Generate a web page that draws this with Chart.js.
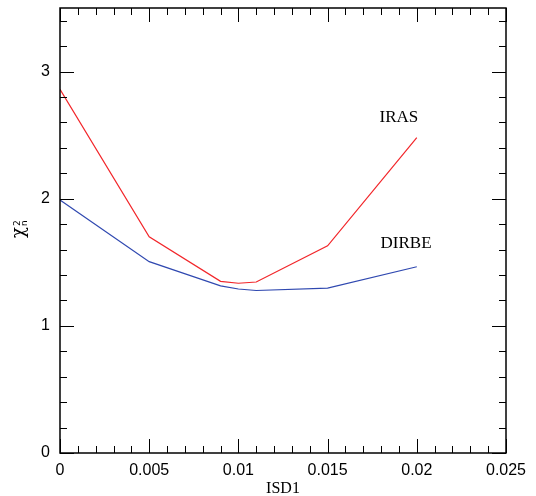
<!DOCTYPE html>
<html>
<head>
<meta charset="utf-8">
<script src="https://cdn.jsdelivr.net/npm/chart.js@4.4.0/dist/chart.umd.min.js"></script>
<style>
  html, body { margin: 0; padding: 0; background: #fff; }
  #wrap { width: 536px; height: 496px; }
</style>
</head>
<body>
<div id="wrap"><canvas id="chi2Chart" width="536" height="496"></canvas></div>
<script>
// ISD1 values and reduced chi-square for each data set
const isd1 = [0, 0.005, 0.009, 0.01, 0.011, 0.015, 0.02];
const irasChi2 = [2.86, 1.70, 1.35, 1.335, 1.345, 1.63, 2.48];
const dirbeChi2 = [1.99, 1.505, 1.315, 1.29, 1.278, 1.297, 1.465];

const xTickValues = [0, 0.005, 0.01, 0.015, 0.02, 0.025];
const xTickText = ['0', '0.005', '0.01', '0.015', '0.02', '0.025'];
const yTickValues = [0, 1, 2, 3];

const curveLabels = [
    { text: 'IRAS', x: 0.0190, y: 2.64 },
    { text: 'DIRBE', x: 0.0194, y: 1.645 }
];

const toPoints = (xs, ys) => xs.map((x, i) => ({ x: x, y: ys[i] }));

// inward ticks on all four sides, plus curve names and the y title
const framePlugin = {
    id: 'frame',
    afterDraw(chart) {
        const ctx = chart.ctx;
        const a = chart.chartArea;
        const xs = chart.scales.x;
        const ys = chart.scales.y;
        ctx.save();
        ctx.strokeStyle = '#000';
        ctx.lineWidth = 1.5;
        ctx.strokeRect(a.left, a.top, a.right - a.left, a.bottom - a.top);

        ctx.lineWidth = 1;
        ctx.beginPath();
        for (let i = 0; i <= 25; i++) {
            const v = i * 0.001;
            const px = Math.round(xs.getPixelForValue(v)) + 0.5;
            const len = i % 5 === 0 ? 14 : 7;
            ctx.moveTo(px, a.bottom); ctx.lineTo(px, a.bottom - len);
            ctx.moveTo(px, a.top); ctx.lineTo(px, a.top + len);
        }
        for (let i = 0; i <= 17; i++) {
            const v = i * 0.2;
            const py = Math.round(ys.getPixelForValue(v)) + 0.5;
            const len = i % 5 === 0 ? 14 : 7;
            ctx.moveTo(a.left, py); ctx.lineTo(a.left + len, py);
            ctx.moveTo(a.right, py); ctx.lineTo(a.right - len, py);
        }
        ctx.stroke();

        ctx.fillStyle = '#000';
        ctx.font = '17px "Liberation Serif", serif';
        ctx.textAlign = 'center';
        ctx.textBaseline = 'middle';
        curveLabels.forEach(l => {
            ctx.fillText(l.text, xs.getPixelForValue(l.x), ys.getPixelForValue(l.y));
        });

        // y title: chi with superscript 2 and subscript n, rotated
        ctx.translate(22, 226);
        ctx.rotate(-Math.PI / 2);
        ctx.textAlign = 'left';
        ctx.textBaseline = 'alphabetic';
        ctx.font = '18px "DejaVu Serif", serif';
        ctx.fillText('χ', -12, 2);
        ctx.font = '9px "DejaVu Sans", sans-serif';
        ctx.fillText('2', 0, -2);
        ctx.fillText('n', 0, 5);
        ctx.restore();
    }
};

const config = {
    type: 'scatter',
    data: {
        datasets: [
            {
                label: 'IRAS',
                data: toPoints(isd1, irasChi2),
                showLine: true,
                borderColor: '#f2262a',
                borderWidth: 1.2,
                pointRadius: 0,
                tension: 0
            },
            {
                label: 'DIRBE',
                data: toPoints(isd1, dirbeChi2),
                showLine: true,
                borderColor: '#2f48b0',
                borderWidth: 1.2,
                pointRadius: 0,
                tension: 0
            }
        ]
    },
    options: {
        responsive: false,
        animation: false,
        layout: { padding: { top: 8, right: 30, left: 0, bottom: 0 } },
        plugins: {
            legend: { display: false },
            tooltip: { enabled: false }
        },
        scales: {
            x: {
                type: 'linear',
                min: 0,
                max: 0.025,
                grid: { display: false, drawTicks: false },
                border: { display: false },
                afterBuildTicks: (s) => { s.ticks = xTickValues.map(v => ({ value: v })); },
                ticks: {
                    autoSkip: false,
                    maxRotation: 0,
                    padding: 8,
                    color: '#000',
                    font: { family: '"Liberation Sans", sans-serif', size: 16 },
                    callback: (v) => xTickText[xTickValues.indexOf(v)] ?? ''
                },
                title: {
                    display: true,
                    text: 'ISD1',
                    color: '#000',
                    font: { family: '"Liberation Serif", serif', size: 16, lineHeight: 0.9 },
                    padding: { top: 2, bottom: 0 }
                },
                afterFit: (s) => { s.height = 43; s.paddingLeft = 0; s.paddingRight = 0; }
            },
            y: {
                type: 'linear',
                min: 0,
                max: 3.5,
                grid: { display: false, drawTicks: false },
                border: { display: false },
                afterBuildTicks: (s) => { s.ticks = yTickValues.map(v => ({ value: v })); },
                ticks: {
                    padding: 10,
                    color: '#000',
                    font: { family: '"Liberation Sans", sans-serif', size: 16 },
                    callback: (v) => String(v)
                },
                afterFit: (s) => { s.width = 60; s.paddingTop = 0; s.paddingBottom = 0; }
            }
        }
    },
    plugins: [framePlugin]
};

new Chart(document.getElementById('chi2Chart'), config);
</script>
</body>
</html>
